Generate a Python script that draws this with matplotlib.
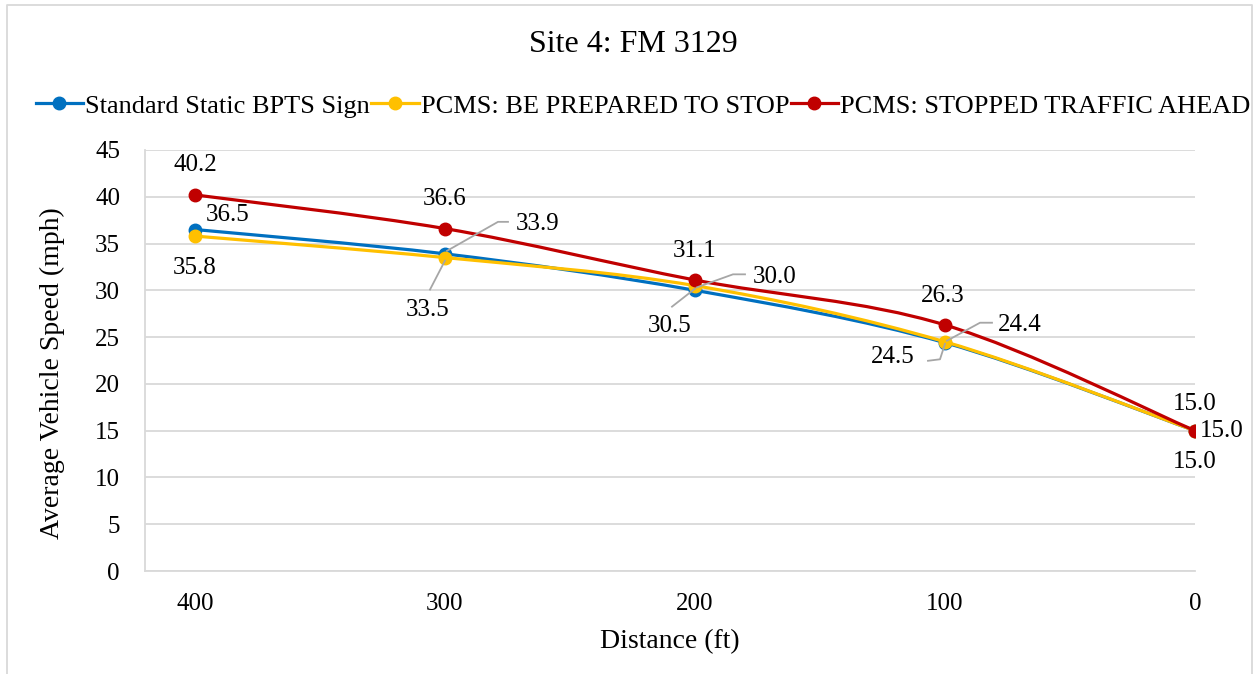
import matplotlib
matplotlib.use('Agg')
import matplotlib.pyplot as plt
import matplotlib.transforms as mtransforms
from matplotlib.path import Path
from matplotlib.patches import PathPatch
from matplotlib.lines import Line2D

plt.rcParams['font.family'] = ['Liberation Serif', 'DejaVu Serif']

# data
distance = [400, 300, 200, 100, 0]
standard_sign = [36.5, 33.9, 30.0, 24.4, 15.0]
be_prepared = [35.8, 33.5, 30.5, 24.5, 15.0]
stopped_traffic = [40.2, 36.6, 31.1, 26.3, 15.0]
series_names = ['Standard Static BPTS Sign', 'PCMS: BE PREPARED TO STOP',
                'PCMS: STOPPED TRAFFIC AHEAD']
colors = ['#0070C0', '#FFC000', '#C00000']

# label placement per point: (dx, dy) in pixels, leader polyline in pixels (or None)
label_pos = [
    [((33, 15), None),
     ((93, 30), [(2, 3), (53, 32), (63, 32)]),
     ((80, 13), [(2, 3), (38, 16), (50, 16)]),
     ((75, 18), [(2, 2), (35, 20), (47, 20)]),
     ((27, 0), None)],
    [((0, -32), None),
     ((-17, -52), [(0, -3), (-15, -32)]),
     ((-25, -40), [(0, -3), (-23, -21)]),
     ((-52, -15), [(0, -2), (-5, -17.5), (-17, -19)]),
     ((0, -31), None)],
    [((0, 30), None),
     ((0, 30), None),
     ((0, 29), None),
     ((-2, 29), None),
     ((0, 27), None)],
]

PX = 0.72  # points per pixel at dpi 100


def smooth_path(xs, ys):
    # excel-like smoothed line as bezier segments through the data points
    pts = list(zip(xs, ys))
    n = len(pts)
    verts = [pts[0]]
    codes = [Path.MOVETO]
    for i in range(n - 1):
        p0 = pts[i - 1] if i > 0 else pts[i]
        p1 = pts[i]
        p2 = pts[i + 1]
        p3 = pts[i + 2] if i + 2 < n else pts[i + 1]
        c1 = (p1[0] + (p2[0] - p0[0]) / 6, p1[1] + (p2[1] - p0[1]) / 6)
        c2 = (p2[0] - (p3[0] - p1[0]) / 6, p2[1] - (p3[1] - p1[1]) / 6)
        verts += [c1, c2, p2]
        codes += [Path.CURVE4] * 3
    return Path(verts, codes)


fig = plt.figure(figsize=(12.57, 6.74), dpi=100)
ax = fig.add_axes([145 / 1257, 103 / 674, 1050 / 1257, 421 / 674])

all_series = [standard_sign, be_prepared, stopped_traffic]
handles = []
for k, (vals, col, name) in enumerate(zip(all_series, colors, series_names)):
    patch = PathPatch(smooth_path(distance, vals), facecolor='none', edgecolor=col,
                      lw=2.3, zorder=3 + k, capstyle='round', joinstyle='round')
    ax.add_patch(patch)
    ax.plot(distance, vals, 'o', color=col, ms=9, zorder=3 + k)
    handles.append(Line2D([], [], color=col, lw=2.3, marker='o', ms=9))

    for x, y, (off, leader) in zip(distance, vals, label_pos[k]):
        ax.annotate(f'{y:.1f}', (x, y), xytext=(off[0] * PX, off[1] * PX),
                    textcoords='offset points', ha='center', va='center',
                    fontsize=18, color='#000000', zorder=10)
        if leader is not None:
            trans = (mtransforms.Affine2D().scale(1 / 72) + fig.dpi_scale_trans
                     + mtransforms.ScaledTranslation(x, y, ax.transData))
            lx = [p[0] * PX for p in leader]
            ly = [p[1] * PX for p in leader]
            ax.plot(lx, ly, color='#A6A6A6', lw=1.3, transform=trans, zorder=9,
                    clip_on=False)

ax.set_xlim(420, 0)
ax.set_ylim(0, 45)
ax.set_xticks(distance)
ax.set_yticks(range(0, 50, 5))
ax.grid(axis='y', color='#D9D9D9', lw=1.3)
ax.set_axisbelow(True)
for side in ['top', 'right']:
    ax.spines[side].set_visible(False)
for side in ['left', 'bottom']:
    ax.spines[side].set_color('#D9D9D9')
    ax.spines[side].set_linewidth(1.3)
ax.tick_params(axis='both', length=0, labelsize=18, colors='#000000')
ax.tick_params(axis='y', pad=18)
ax.tick_params(axis='x', pad=16)

ax.set_xlabel('Distance (ft)', fontsize=20)
ax.set_ylabel('Average Vehicle Speed (mph)', fontsize=20)
ax.xaxis.set_label_coords(0.5, (571 - 642) / 421)
ax.xaxis.label.set_va('center')
ax.yaxis.set_label_coords((52 - 145) / 1050, (571 - 373) / 421)
ax.yaxis.label.set_va('center')

fig.text(633 / 1257, 1 - 44 / 674, 'Site 4: FM 3129', ha='center', va='center',
         fontsize=23)
fig.legend(handles, series_names, loc='center', bbox_to_anchor=(643 / 1257, 1 - 106 / 674),
           ncol=3, frameon=False, fontsize=19, handlelength=1.8, handletextpad=0.08,
           columnspacing=0.05, borderpad=0)

# chart area border
fig.add_artist(Line2D([7 / 1257, 7 / 1257, 1252 / 1257, 1252 / 1257],
                      [0, 1 - 5 / 674, 1 - 5 / 674, 0], transform=fig.transFigure,
                      color='#D9D9D9', lw=1.3))

fig.savefig('out.png', dpi=100)
